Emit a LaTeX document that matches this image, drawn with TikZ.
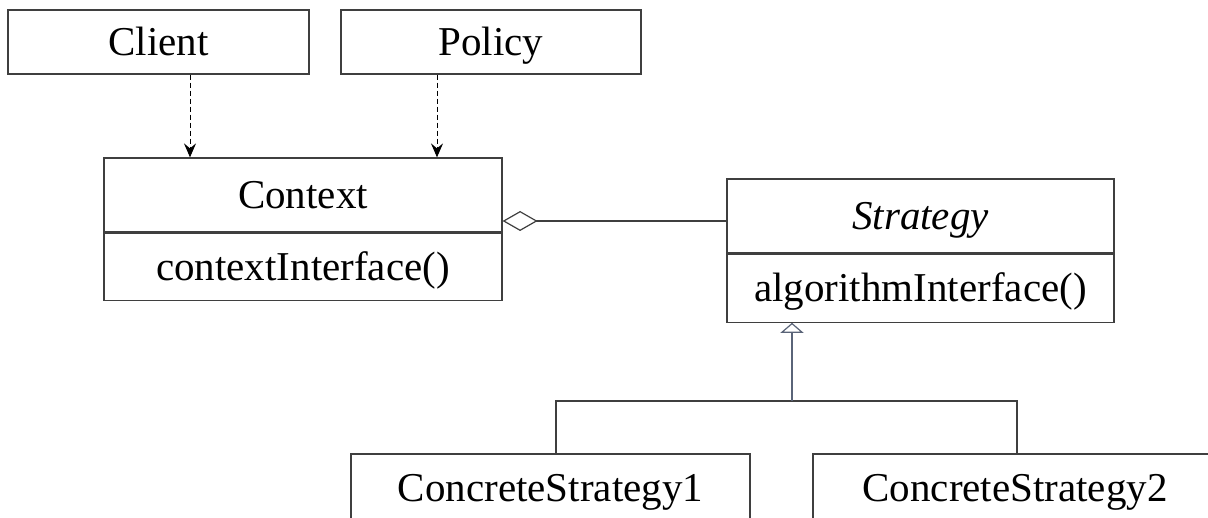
\documentclass[tikz,border=0pt]{standalone}
\usepackage{fontspec}
\setmainfont{Liberation Serif}
\usetikzlibrary{arrows.meta, positioning, calc}

\definecolor{umlline}{HTML}{3F3F3F}
\definecolor{inhline}{HTML}{5A6478}

\begin{document}
\begin{tikzpicture}[x=1pt, y=-1pt,
    classbox/.style={draw=umlline, line width=1.2pt, rectangle, inner sep=0pt,
      text height=27pt, text depth=0pt,
      font=\fontsize{41}{49}\selectfont},
    dep/.style={draw=black, line width=1pt, dash pattern=on 5pt off 3pt,
      -{Stealth[length=14pt, width=12pt, inset=5pt]}},
    agg/.style={draw=umlline, line width=1.2pt,
      {Diamond[open, fill=white, length=35pt, width=20pt]}-},
    inh/.style={draw=umlline, line width=1.2pt},
    inharrow/.style={draw=inhline, line width=1.2pt,
      -{Triangle[open, fill=white, length=10pt, width=23pt]}}]
  \useasboundingbox (0,0) rectangle (1208,518);
  \clip (0,0) rectangle (1208,518);

  % Client and Policy
  \node[classbox, minimum width=301pt, minimum height=64pt] (client) at (158.5,42) {Client};
  \node[classbox, minimum width=300pt, minimum height=64pt] (policy) at (491,42) {Policy};

  % Context
  \node[classbox, minimum width=398pt, minimum height=74pt] (ctx) at (303,195) {Context};
  \node[classbox, minimum width=398pt, minimum height=67pt, below=0pt of ctx] (ctxop) {contextInterface()};

  % Strategy
  \node[classbox, minimum width=387pt, minimum height=74pt] (strat) at (920.5,216) {\textit{Strategy}};
  \node[classbox, minimum width=387pt, minimum height=68pt, below=0pt of strat] (stratop) {algorithmInterface()};

  % Concrete strategies
  \node[classbox, minimum width=399pt, minimum height=67pt] (cs1) at (550.5,487.5) {ConcreteStrategy1};
  \node[classbox, minimum width=404pt, minimum height=67pt] (cs2) at (1015,487.5) {ConcreteStrategy2};

  % dependencies
  \draw[dep] ([xshift=31.5pt]client.south) -- ([xshift=31.5pt]client.south |- ctx.north);
  \draw[dep] ([xshift=-54pt]policy.south) -- ([xshift=-54pt]policy.south |- ctx.north);

  % aggregation
  \draw[agg] ([yshift=-26pt]ctx.east) -- ([yshift=-26pt]ctx.east -| strat.west);

  % inheritance
  \coordinate (fork) at (792,401);
  \draw[inh] ([xshift=5.5pt]cs1.north) |- (fork) -| ([xshift=2pt]cs2.north);
  \draw[inharrow] (fork) -- (fork |- stratop.south);

\end{tikzpicture}
\end{document}
